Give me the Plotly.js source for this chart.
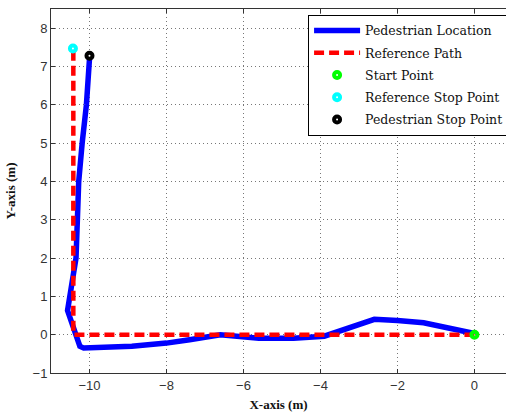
<!DOCTYPE html>
<html>
<head>
<meta charset="utf-8">
<script src="https://cdn.plot.ly/plotly-3.0.1.min.js"></script>
<style>html,body{margin:0;padding:0;background:#fff;}#chart{width:506px;height:412px;overflow:hidden;}</style>
</head>
<body>
<div id="chart"></div>
<script>
// Pedestrian measured path (m)
var pedX = [0, -1.32, -2.0, -2.6, -3.9, -4.7, -5.6, -6.6, -7.4, -8.0, -8.9, -10.15, -10.25, -10.42, -10.57, -10.35, -10.32, -10.28, -10.19, -10.08, -10.0];
var pedY = [0.03, 0.31, 0.37, 0.4, -0.04, -0.09, -0.09, 0.0, -0.13, -0.22, -0.3, -0.35, -0.3, 0.2, 0.63, 2.0, 3.0, 4.0, 5.0, 6.0, 7.2];
// Reference path (m)
var refX = [0, -10.42, -10.42];
var refY = [0, 0, 7.46];
// Points
var startPt = [0, 0];
var refStopPt = [-10.43, 7.47];
var pedStopPt = [-10.0, 7.28];
var xTicks = [-10, -8, -6, -4, -2, 0];
var yTicks = [-1, 0, 1, 2, 3, 4, 5, 6, 7, 8];

var legendFont = {family: 'DejaVu Serif', size: 12.5, color: '#111'};

var traces = [
  {x: pedX, y: pedY, mode: 'lines', name: 'Pedestrian Location',
   line: {color: '#0000ff', width: 5.5}, legendgroup: 'a'},
  {x: refX, y: refY, mode: 'lines', name: 'Reference Path',
   line: {color: '#ff0000', width: 4.5, dash: '10px,5px'}, legendgroup: 'b'},
  {x: [startPt[0]], y: [startPt[1]], mode: 'markers', name: 'Start Point',
   marker: {symbol: 'circle-open', size: 6, color: '#00ff00', line: {width: 4, color: '#00ff00'}}, legendgroup: 'c'},
  {x: [refStopPt[0]], y: [refStopPt[1]], mode: 'markers', name: 'Reference Stop Point',
   marker: {symbol: 'circle-open', size: 6, color: '#00ffff', line: {width: 4, color: '#00ffff'}}, legendgroup: 'd'},
  {x: [pedStopPt[0]], y: [pedStopPt[1]], mode: 'markers', name: 'Pedestrian Stop Point',
   marker: {symbol: 'circle-open', size: 6, color: '#000000', line: {width: 4, color: '#000000'}}, legendgroup: 'e'}
];

var axisCommon = {
  showline: true, linecolor: '#333', linewidth: 1,
  ticks: 'inside', ticklen: 4, tickcolor: '#333', tickwidth: 1,
  showgrid: true, gridcolor: '#777', gridwidth: 1, griddash: '1px,3px',
  zeroline: false,
  tickfont: {family: 'Liberation Sans, Arial, sans-serif', size: 13, color: '#333'}
};

var layout = {
  width: 506, height: 412,
  margin: {l: 51, r: 0, t: 9, b: 39, autoexpand: false},
  paper_bgcolor: '#fff', plot_bgcolor: '#fff',
  showlegend: true,
  xaxis: Object.assign({}, axisCommon, {
    range: [-11, 0.82], tickvals: xTicks, mirror: 'ticks', automargin: false,
    title: {text: 'X-axis (m)', standoff: 8,
      font: {family: 'Liberation Serif, Times New Roman, serif', size: 13, color: '#111', weight: 'bold'}}
  }),
  yaxis: Object.assign({}, axisCommon, {
    range: [-1, 8.5], tickvals: yTicks, mirror: false, automargin: false,
    title: {text: 'Y-axis (m)', standoff: 14,
      font: {family: 'Liberation Serif, Times New Roman, serif', size: 13, color: '#111', weight: 'bold'}}
  }),
  legend: {
    x: 0.565, y: 0.984, xanchor: 'left', yanchor: 'top',
    bgcolor: '#fff', bordercolor: '#000', borderwidth: 1,
    font: legendFont, itemwidth: 46, tracegroupgap: 3,
    traceorder: 'grouped'
  }
};

Plotly.newPlot('chart', traces, layout, {displayModeBar: false, staticPlot: true});
</script>
</body>
</html>
